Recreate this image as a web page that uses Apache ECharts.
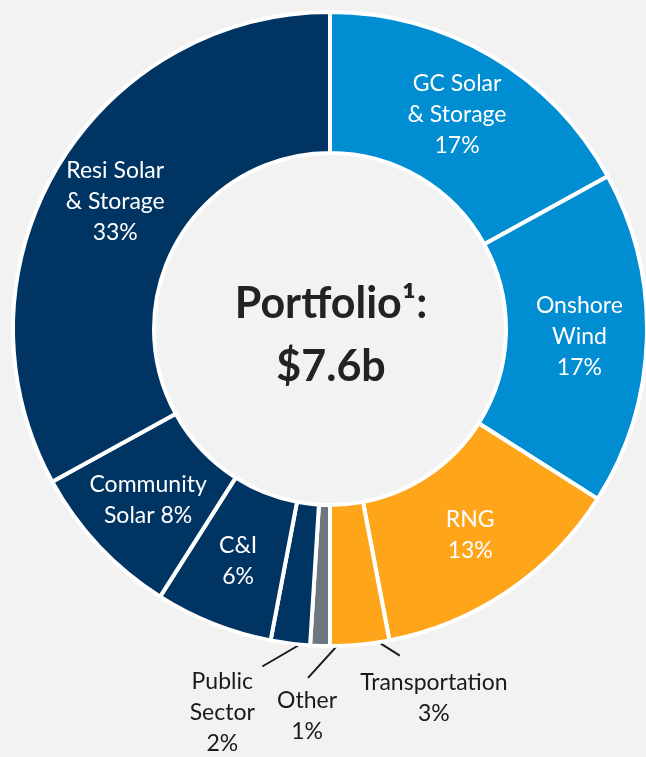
<!DOCTYPE html>
<html>
<head>
<meta charset="utf-8">
<script src="https://cdn.jsdelivr.net/npm/echarts@6/dist/echarts.min.js"></script>
<style>
  html, body { margin: 0; padding: 0; background: #f2f2f2; }
  #chart { width: 646px; height: 757px; }
</style>
</head>
<body>
<div id="chart"></div>
<script>
// portfolio split, clockwise from 12 o'clock
const categories = ['GC Solar & Storage', 'Onshore Wind', 'RNG', 'Transportation', 'Other',
                    'Public Sector', 'C&I', 'Community Solar', 'Resi Solar & Storage'];
const shares = [17, 17, 13, 3, 1, 2, 6, 8, 33];
const labelText = ['GC Solar\n& Storage', 'Onshore\nWind', 'RNG', 'Transportation', 'Other',
                   'Public\nSector', 'C&I', 'Community\nSolar', 'Resi Solar\n& Storage'];
const totalText = 'Portfolio\u00b9:\n$7.6b';

const NAVY = '#003462', BLUE = '#008dd2', ORANGE = '#ffa51a', GREY = '#6e7780';
const colors = [BLUE, BLUE, ORANGE, ORANGE, GREY, NAVY, NAVY, NAVY, NAVY];

const FONT = 'Lato, "Noto Sans", sans-serif';
const CX = 330, CY = 329;

// callouts for the thin slices, relative to the default leader start point
const callouts = {
    'Transportation': { from: [21, -1], to: [40, 11], text: [74, 22] },
    'Other':          { from: [17, 0],  to: [-12, 32], text: [-13, 39] },
    'Public Sector':  { from: [8, 2],   to: [-28, 23], text: [-68, 23] }
};

function labelFor(i) {
    const sep = categories[i] === 'Community Solar' ? ' ' : '\n';
    return labelText[i] + sep + shares[i] + '%';
}

const data = categories.map((name, i) => {
    const item = { name: name, value: shares[i], itemStyle: { color: colors[i] } };
    if (callouts[name]) {
        item.label = { position: 'outside', color: '#1a1a1a' };
        item.labelLine = { show: true, length: 20, length2: 0 };
    }
    return item;
});

const chart = echarts.init(document.getElementById('chart'));
chart.setOption({
    backgroundColor: '#f2f2f2',
    animation: false,
    graphic: [{
        type: 'text',
        x: CX + 1,
        y: CY + 7,
        style: {
            text: totalText,
            fill: '#222222',
            fontFamily: FONT,
            fontWeight: 'bold',
            fontSize: 43,
            lineHeight: 63,
            align: 'center',
            verticalAlign: 'middle'
        }
    }],
    series: [{
        type: 'pie',
        center: [CX, CY],
        radius: [176, 317],
        startAngle: 90,
        clockwise: true,
        avoidLabelOverlap: false,
        itemStyle: { borderColor: '#ffffff', borderWidth: 4 },
        label: {
            show: true,
            position: 'inside',
            formatter: p => labelFor(p.dataIndex),
            color: '#ffffff',
            fontFamily: FONT,
            fontSize: 23,
            lineHeight: 31,
            align: 'center'
        },
        labelLine: { show: false, lineStyle: { color: '#1a1a1a', width: 2 } },
        labelLayout: params => {
            const c = callouts[categories[params.dataIndex]];
            if (!c || !params.labelLinePoints) return {};
            const p0 = params.labelLinePoints[0];
            const a = [p0[0] + c.from[0], p0[1] + c.from[1]];
            const b = [p0[0] + c.to[0], p0[1] + c.to[1]];
            return {
                x: p0[0] + c.text[0],
                y: p0[1] + c.text[1],
                align: 'center',
                verticalAlign: 'top',
                labelLinePoints: [a, b, b]
            };
        },
        emphasis: { disabled: true },
        data: data
    }]
});
</script>
</body>
</html>
